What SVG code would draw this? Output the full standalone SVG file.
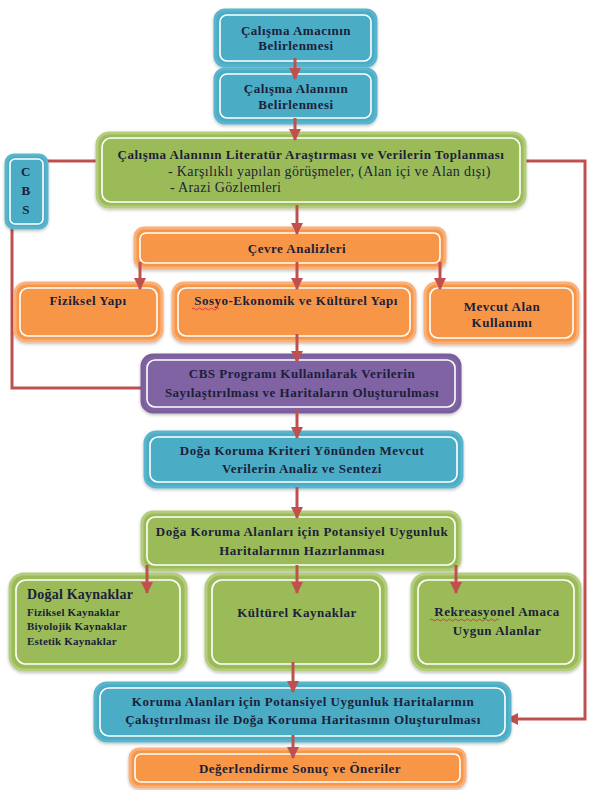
<svg xmlns="http://www.w3.org/2000/svg" width="590" height="790" viewBox="0 0 590 790">
<defs>
<marker id="ah" markerUnits="userSpaceOnUse" markerWidth="12" markerHeight="12" viewBox="0 0 12 12" refX="11" refY="6" orient="auto">
<path d="M0,0 L12,6 L0,12 z" fill="#c0504d"/>
</marker>
<filter id="sh" x="-10%" y="-10%" width="120%" height="130%">
<feDropShadow dx="0" dy="1.5" stdDeviation="1.5" flood-color="#000" flood-opacity="0.25"/>
</filter>
</defs>
<style>
.o{stroke-width:3;filter:url(#sh)}
.in{fill:none;stroke:#fff;stroke-width:1.6}
.blue{fill:#4bacc6;stroke:#5ab4cc}
.green{fill:#9bbb59;stroke:#b3cd7d}
.orange{fill:#f79646;stroke:#f9b07a}
.purple{fill:#8064a2;stroke:#7a5f9c}
text{font-family:"Liberation Serif","DejaVu Serif",serif;font-weight:bold;font-size:13px;letter-spacing:0.5px;fill:#1b1f3a;text-anchor:middle}
.r{font-weight:normal;text-anchor:start;font-size:14px;letter-spacing:0.35px}
.s{font-size:11px;letter-spacing:0.2px;text-anchor:start}
.c{fill:none;stroke:#c0504d;stroke-width:3}
.sq{fill:none;stroke:#e03030;stroke-width:0.9}
</style>
<rect width="590" height="790" fill="#fff"/>

<g id="n1"><rect class="o blue" x="215" y="10" width="161" height="56" rx="10"/><rect class="in" x="220" y="15" width="151" height="46" rx="7"/>
<text x="296" y="35">Çalışma Amacının</text><text x="296" y="50">Belirlenmesi</text></g>

<g id="n2"><rect class="o blue" x="215" y="69" width="161" height="54" rx="10"/><rect class="in" x="220" y="74" width="151" height="44" rx="7"/>
<text x="296" y="93">Çalışma Alanının</text><text x="296" y="109">Belirlenmesi</text></g>

<g id="connectors">
<path class="c" d="M97,161 H12 V388 H142"/>
<path class="c" d="M525,161 H585 V719 H507" marker-end="url(#ah)"/>
</g>

<g id="n3"><rect class="o green" x="97" y="133" width="428" height="74" rx="12"/><rect class="in" x="102" y="138" width="418" height="64" rx="9"/>
<text x="311" y="159">Çalışma Alanının Literatür Araştırması ve Verilerin Toplanması</text>
<text class="r" x="168" y="176">- Karşılıklı yapılan görüşmeler, (Alan içi ve Alan dışı)</text>
<text class="r" x="170" y="192">- Arazi Gözlemleri</text></g>

<g id="cbs"><rect class="o blue" x="6" y="155" width="41" height="73" rx="8"/><rect class="in" x="10" y="159" width="33" height="65" rx="5"/>
<text x="26" y="176">C</text><text x="26" y="195">B</text><text x="26" y="214">S</text></g>

<g id="n4"><rect class="o orange" x="135" y="228" width="310" height="40" rx="9"/><rect class="in" x="140" y="233" width="300" height="30" rx="6"/>
<text x="297" y="253">Çevre Analizleri</text></g>

<g id="n5"><rect class="o orange" x="15" y="283" width="147" height="58" rx="11"/><rect class="in" x="20" y="288" width="137" height="48" rx="8"/>
<text x="88" y="305">Fiziksel Yapı</text></g>

<g id="n6"><rect class="o orange" x="173" y="283" width="242" height="58" rx="11"/><rect class="in" x="178" y="288" width="232" height="48" rx="8"/>
<text x="296" y="305">Sosyo-Ekonomik ve Kültürel Yapı</text>
<path class="sq" d="M192,309 q1.5,-2 3,0 t3,0 t3,0 t3,0 t3,0 t3,0 t3,0 t3,0 t3,0"/></g>

<g id="n7"><rect class="o orange" x="425" y="283" width="153" height="60" rx="11"/><rect class="in" x="430" y="288" width="143" height="50" rx="8"/>
<text x="502" y="311">Mevcut Alan</text><text x="502" y="327">Kullanımı</text></g>

<g id="n8"><rect class="o purple" x="142" y="355" width="318" height="57" rx="11"/><rect class="in" x="147" y="360" width="308" height="47" rx="8"/>
<text x="302" y="378">CBS Programı Kullanılarak Verilerin</text><text x="302" y="397">Sayılaştırılması ve Haritaların Oluşturulması</text></g>

<g id="n9"><rect class="o blue" x="145" y="432" width="317" height="55" rx="11"/><rect class="in" x="150" y="437" width="307" height="45" rx="8"/>
<text x="302" y="455">Doğa Koruma Kriteri Yönünden Mevcut</text><text x="302" y="473">Verilerin Analiz ve Sentezi</text></g>

<g id="n10"><rect class="o green" x="142" y="512" width="318" height="58" rx="11"/><rect class="in" x="147" y="517" width="308" height="48" rx="8"/>
<text x="302" y="536">Doğa Koruma Alanları için Potansiyel Uygunluk</text><text x="302" y="555">Haritalarının Hazırlanması</text></g>

<g id="n11"><rect class="o green" x="10" y="574" width="176" height="96" rx="14"/><rect class="in" x="16" y="580" width="164" height="84" rx="10"/>
<text x="27" y="599" style="text-anchor:start;font-size:14px;letter-spacing:0.2px">Doğal Kaynaklar</text>
<text class="s" x="27" y="616">Fiziksel  Kaynaklar</text>
<text class="s" x="27" y="630">Biyolojik  Kaynaklar</text>
<text class="s" x="27" y="645">Estetik Kaynaklar</text></g>

<g id="n12"><rect class="o green" x="206" y="574" width="180" height="96" rx="14"/><rect class="in" x="212" y="580" width="168" height="84" rx="10"/>
<text x="297" y="617">Kültürel Kaynaklar</text></g>

<g id="n13"><rect class="o green" x="412" y="574" width="168" height="96" rx="14"/><rect class="in" x="418" y="580" width="156" height="84" rx="10"/>
<text x="497" y="616">Rekreasyonel Amaca</text><text x="497" y="635">Uygun Alanlar</text>
<path class="sq" d="M430,620 q1.5,-2 3,0 t3,0 t3,0 t3,0 t3,0 t3,0 t3,0 t3,0 t3,0 t3,0 t3,0 t3,0 t3,0 t3,0 t3,0 t3,0 t3,0 t3,0 t3,0 t3,0 t3,0 t3,0 t3,0"/></g>

<g id="n14"><rect class="o blue" x="95" y="683" width="415" height="58" rx="12"/><rect class="in" x="100" y="688" width="405" height="48" rx="9"/>
<text x="303" y="706">Koruma Alanları için Potansiyel Uygunluk Haritalarının</text><text x="303" y="724">Çakıştırılması ile Doğa Koruma Haritasının Oluşturulması</text></g>

<g id="n15"><rect class="o orange" x="130" y="749" width="335" height="38" rx="9"/><rect class="in" x="135" y="754" width="325" height="28" rx="6"/>
<text x="300" y="773">Değerlendirme Sonuç ve Öneriler</text></g>

<g id="arrows">
<path class="c" d="M295,58 V79" marker-end="url(#ah)"/>
<path class="c" d="M295,118 V140" marker-end="url(#ah)"/>
<path class="c" d="M297,205 V234" marker-end="url(#ah)"/>
<path class="c" d="M140,262 V289" marker-end="url(#ah)"/>
<path class="c" d="M297,262 V289" marker-end="url(#ah)"/>
<path class="c" d="M440,262 V289" marker-end="url(#ah)"/>
<path class="c" d="M297,334 V362" marker-end="url(#ah)"/>
<path class="c" d="M297,410 V438" marker-end="url(#ah)"/>
<path class="c" d="M297,487 V518" marker-end="url(#ah)"/>
<path class="c" d="M147,565 V593" marker-end="url(#ah)"/>
<path class="c" d="M297,565 V593" marker-end="url(#ah)"/>
<path class="c" d="M456,565 V593" marker-end="url(#ah)"/>
<path class="c" d="M293,662 V692" marker-end="url(#ah)"/>
<path class="c" d="M293,735 V758" marker-end="url(#ah)"/>
</g>
</svg>
